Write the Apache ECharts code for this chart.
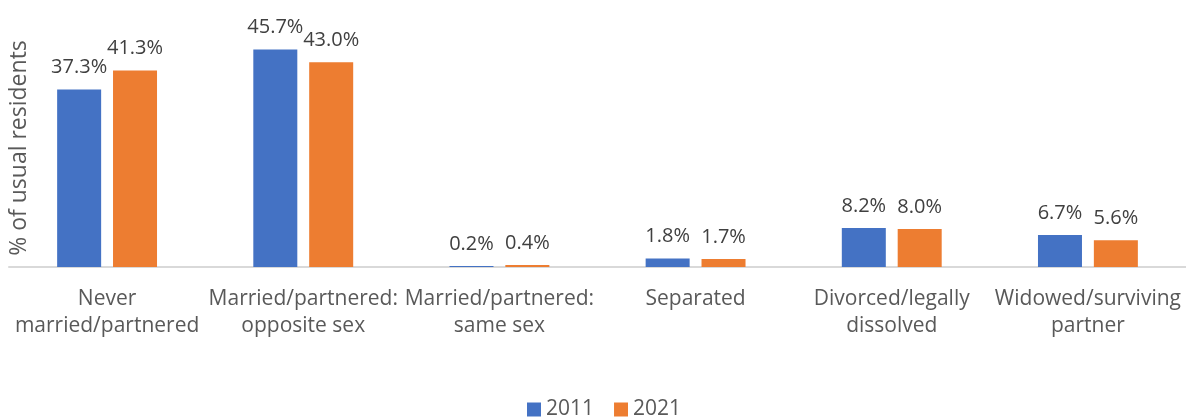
<!DOCTYPE html>
<html>
<head>
<meta charset="utf-8">
<script src="https://cdn.jsdelivr.net/npm/echarts@6/dist/echarts.min.js"></script>
<style>
  html, body { margin: 0; padding: 0; background: #fff; }
  #main { width: 1186px; height: 418px; }
</style>
</head>
<body>
<div id="main"></div>
<script>
var categories = [
  'Never\nmarried/partnered',
  'Married/partnered:\nopposite sex',
  'Married/partnered:\nsame sex',
  'Separated',
  'Divorced/legally\ndissolved',
  'Widowed/surviving\npartner'
]
var values2011 = [37.3, 45.7, 0.2, 1.8, 8.2, 6.7]
var values2021 = [41.3, 43.0, 0.4, 1.7, 8.0, 5.6]
var seriesNames = ['2011', '2021']

var fontFamily = '"Open Sans", "Noto Sans", sans-serif'
var myChart = echarts.init(document.getElementById('main'))

function pct(params) {
  return params.value.toFixed(1) + '%'
}

var option = {
  animation: false,
  color: ['#4472C4', '#ED7D31'],
  textStyle: { fontFamily: fontFamily },
  legend: {
    data: seriesNames,
    bottom: -7,
    left: 522,
    icon: 'rect',
    itemWidth: 14,
    itemHeight: 14,
    itemGap: 20,
    textStyle: { fontSize: 21, color: '#595959', fontFamily: fontFamily }
  },
  grid: {
    top: 29,
    bottom: 151,
    left: 6,
    right: 0
  },
  xAxis: {
    type: 'category',
    data: categories,
    axisLine: { lineStyle: { color: '#d9d9d9', width: 2 } },
    axisTick: { show: false },
    axisLabel: {
      interval: 0,
      margin: 19,
      fontSize: 21,
      lineHeight: 27,
      color: '#595959',
      fontFamily: fontFamily
    }
  },
  yAxis: {
    type: 'value',
    min: 0,
    max: 50,
    name: '% of usual residents',
    nameLocation: 'middle',
    nameGap: -22,
    nameTextStyle: { fontSize: 23, color: '#595959', fontFamily: fontFamily },
    axisLine: { show: false },
    axisTick: { show: false },
    axisLabel: { show: false },
    splitLine: { show: false }
  },
  series: [
    {
      name: '2011',
      type: 'bar',
      data: values2011,
      barWidth: 44,
      barGap: '27%',
      label: {
        show: true,
        position: 'top',
        distance: 12,
        fontSize: 20,
        color: '#404040',
        formatter: pct
      }
    },
    {
      name: '2021',
      type: 'bar',
      data: values2021,
      barWidth: 44,
      label: {
        show: true,
        position: 'top',
        distance: 12,
        fontSize: 20,
        color: '#404040',
        formatter: pct
      }
    }
  ]
}
option && myChart.setOption(option)
</script>
</body>
</html>
